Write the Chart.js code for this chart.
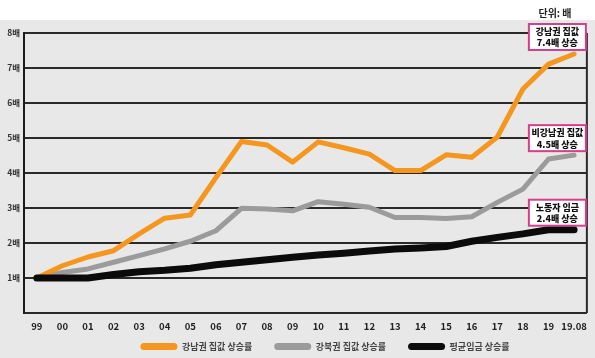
<!DOCTYPE html>
<html>
<head>
<meta charset="utf-8">
<script src="https://cdn.jsdelivr.net/npm/chart.js@4.4.1/dist/chart.umd.min.js"></script>
<style>
  html, body { margin: 0; padding: 0; background: #ffffff; }
  #wrap { width: 595px; height: 358px; position: relative; }
</style>
</head>
<body>
<div id="wrap"><canvas id="c" width="595" height="358"></canvas></div>
<script>
const years = ['99','00','01','02','03','04','05','06','07','08','09','10','11','12','13','14','15','16','17','18','19','19.08'];
const gangnam = [1.0,1.35,1.6,1.78,2.26,2.71,2.8,3.87,4.9,4.8,4.31,4.89,4.72,4.54,4.07,4.07,4.52,4.45,5.03,6.4,7.11,7.4];
const gangbuk = [1.0,1.16,1.26,1.45,1.64,1.83,2.05,2.35,2.99,2.97,2.92,3.18,3.11,3.02,2.73,2.73,2.7,2.75,3.16,3.54,4.4,4.51];
const wage    = [1.0,1.0,1.0,1.1,1.18,1.22,1.28,1.38,1.45,1.52,1.59,1.66,1.71,1.77,1.83,1.86,1.9,2.05,2.16,2.26,2.38,2.38];
const seriesNames = ['강남권 집값 상승률','강북권 집값 상승률','평균임금 상승률'];
const yTicks = [0,1,2,3,4,5,6,7,8];
const unitLabel = '단위: 배';
const callouts = [
  ['강남권 집값','7.4배 상승'],
  ['비강남권 집값','4.5배 상승'],
  ['노동자 임금','2.4배 상승']
];

const FONT = "'Noto Sans CJK KR', 'Noto Sans', sans-serif";
const COLORS = ['#f5961f', '#9b9b9b', '#0b0b0b'];

const bgPlugin = {
  id: 'bg',
  beforeDraw(chart) {
    const ctx = chart.ctx;
    ctx.save();
    ctx.fillStyle = '#ffffff';
    ctx.fillRect(0, 0, chart.width, chart.height);
    ctx.fillStyle = '#e8e8e8';
    ctx.fillRect(0, 20, chart.width, chart.height - 20);
    ctx.restore();
  }
};

const legendShift = {
  id: 'legendShift',
  afterLayout(chart) {
    const lg = chart.legend;
    if (!lg) return;
    const dx = 31;
    lg.left += dx; lg.right += dx;
    lg.top = 320; lg.bottom = 358;
  }
};

const overlay = {
  id: 'overlay',
  afterDraw(chart) {
    const ctx = chart.ctx;
    const ca = chart.chartArea;
    const ys = chart.scales.y;
    ctx.save();
    ctx.strokeStyle = '#2a2a2a';
    ctx.lineWidth = 2;
    ctx.beginPath();
    ctx.moveTo(ca.right, ca.top);
    ctx.lineTo(ca.right, ca.bottom);
    ctx.stroke();
    ctx.fillStyle = '#222';
    ctx.font = "bold 10px " + FONT;
    ctx.textAlign = 'center';
    ctx.textBaseline = 'middle';
    ctx.fillText(unitLabel, 555, 13);
    const sets = [gangnam, gangbuk, wage];
    callouts.forEach((lines, i) => {
      const v = sets[i][sets[i].length - 1];
      const py = ys.getPixelForValue(v);
      const w = 57, h = 26;
      const x1 = ca.right - 1 - w;
      const y1 = py - 4 - h;
      ctx.fillStyle = '#ffffff';
      ctx.fillRect(x1, y1, w, h);
      ctx.strokeStyle = '#d43f8d';
      ctx.lineWidth = 2;
      ctx.strokeRect(x1, y1, w, h);
      ctx.fillStyle = '#111';
      ctx.font = "900 9px " + FONT;
      ctx.fillText(lines[0], x1 + w / 2, y1 + 7.5);
      ctx.fillText(lines[1], x1 + w / 2, y1 + 19);
    });
    ctx.restore();
  }
};

const ds = (label, data, color, width, order) => ({
  label, data,
  borderColor: color,
  backgroundColor: color,
  borderWidth: width,
  borderCapStyle: 'round',
  borderJoinStyle: 'round',
  pointRadius: 0,
  tension: 0,
  fill: false,
  order
});

new Chart(document.getElementById('c'), {
  type: 'line',
  data: {
    labels: years,
    datasets: [
      ds(seriesNames[0], gangnam, COLORS[0], 5, 1),
      ds(seriesNames[1], gangbuk, COLORS[1], 5, 2),
      ds(seriesNames[2], wage, COLORS[2], 7, 0)
    ]
  },
  options: {
    responsive: false,
    animation: false,
    devicePixelRatio: 1,
    layout: { padding: { top: 33, right: 7, left: 0, bottom: 0 } },
    plugins: {
      tooltip: { enabled: false },
      legend: {
        position: 'bottom',
        maxHeight: 23,
        labels: {
          boxWidth: 37,
          boxHeight: 7,
          useBorderRadius: true,
          borderRadius: 3.5,
          padding: 22,
          color: '#444',
          font: { family: FONT, size: 9, weight: 'bold' },
          sort: (a, b) => a.datasetIndex - b.datasetIndex,
          generateLabels(chart) {
            const items = Chart.defaults.plugins.legend.labels.generateLabels(chart);
            items.forEach(it => { it.lineWidth = 0; it.fillStyle = it.strokeStyle; });
            return items;
          }
        }
      }
    },
    scales: {
      x: {
        offset: true,
        grid: { display: false, drawTicks: false },
        border: { display: false },
        ticks: {
          padding: 8,
          color: '#222',
          maxRotation: 0,
          autoSkip: false,
          font: { family: FONT, size: 9.5, weight: 'bold' }
        },
        afterFit(s) { s.height = 22; }
      },
      y: {
        min: 0, max: 8,
        afterBuildTicks(s) { s.ticks = yTicks.map(v => ({ value: v })); },
        grid: { color: '#2a2a2a', lineWidth: 2, drawTicks: false },
        border: { display: true, color: '#1a1a1a', width: 2 },
        ticks: {
          padding: 4,
          color: '#333',
          font: { family: FONT, size: 8.5, weight: 'bold' },
          callback: v => (v === 0 ? '' : v + '배')
        },
        afterFit(s) { s.width = 24; }
      }
    }
  },
  plugins: [bgPlugin, legendShift, overlay]
});
</script>
</body>
</html>
